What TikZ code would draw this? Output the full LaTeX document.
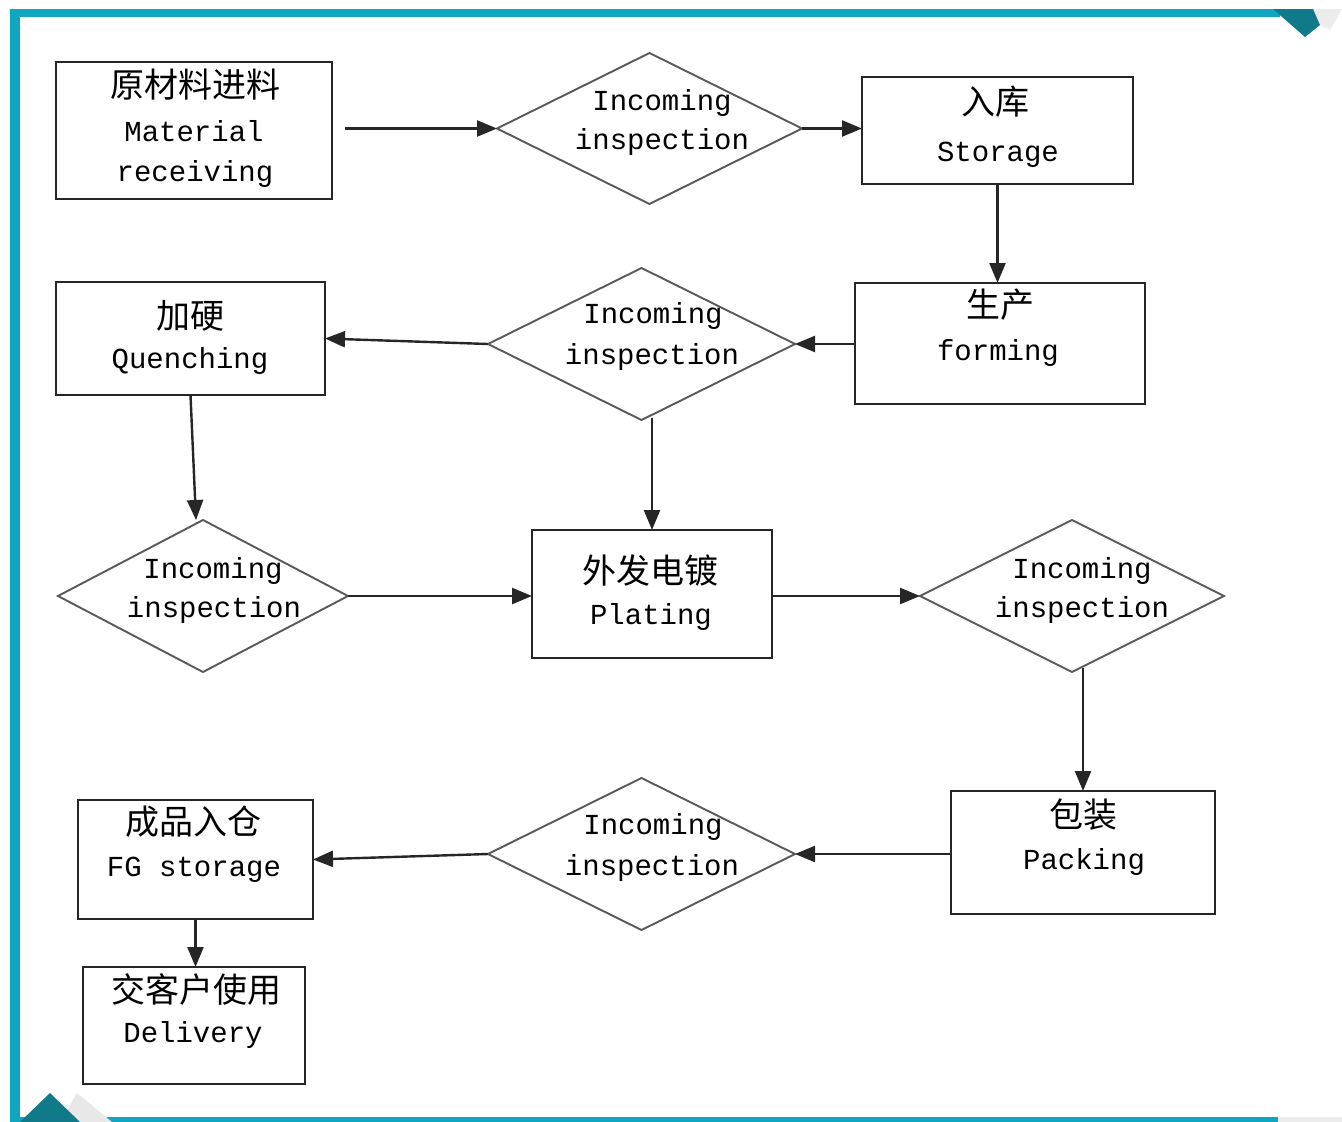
\documentclass[tikz,border=0pt]{standalone}
\usepackage{fontspec}
\setmainfont{Liberation Mono}
\newfontfamily\cjk{Noto Sans CJK SC}
\usetikzlibrary{shapes.geometric,arrows.meta}
\definecolor{tealbar}{RGB}{14,166,192}
\definecolor{tealdark}{RGB}{16,122,138}
\begin{document}
\begin{tikzpicture}[x=1pt,y=-1pt,
  box/.style={draw=black!85,line width=2.2pt,inner sep=0pt,outer sep=0pt},
  dia/.style={diamond,draw=black!65,line width=1.9pt,inner sep=0pt,outer sep=0pt},
  arr/.style={-{Triangle[length=20pt,width=16pt]},line width=2.4pt,draw=black!85,fill=black},
  cn/.style={font=\cjk\fontsize{34}{34}\selectfont,inner sep=0pt},
  en/.style={font=\fontsize{29}{29}\selectfont,anchor=base,inner sep=0pt}]
\useasboundingbox (0,0) rectangle (1342,1122);
\fill[white] (0,0) rectangle (1342,1122);
% frame
\fill[tealbar] (10,9) rectangle (1280,17);
\fill[tealbar] (10,9) rectangle (20,1122);
\fill[tealbar] (10,1117) rectangle (1278,1122);
\fill[gray!15] (1278,1117) rectangle (1342,1122);
\fill[gray!18] (60,1122) -- (77,1093) -- (112,1122) -- cycle;
\fill[tealdark] (20,1122) -- (50,1093) -- (80,1122) -- cycle;
\fill[gray!15] (1313,9) -- (1342,9) -- (1330,30) -- (1320,25) -- cycle;
\fill[tealdark] (1273,9) -- (1313,9) -- (1320,25) -- (1305,37) -- cycle;
% boxes
\node[box,minimum width=276pt,minimum height=137pt] (b1) at (194,130.5) {};
\node[box,minimum width=271pt,minimum height=107pt] (st) at (997.5,130.5) {};
\node[box,minimum width=290pt,minimum height=121pt] (fm) at (1000,343.5) {};
\node[box,minimum width=269pt,minimum height=113pt] (q) at (190.5,338.5) {};
\node[box,minimum width=240pt,minimum height=128pt] (pl) at (652,594) {};
\node[box,minimum width=264pt,minimum height=123pt] (pk) at (1083,852.5) {};
\node[box,minimum width=235pt,minimum height=119pt] (fg) at (195.5,859.5) {};
\node[box,minimum width=222pt,minimum height=117pt] (dl) at (194,1025.5) {};
% diamonds
\node[dia,minimum width=305pt,minimum height=151pt] (d1) at (649.5,128.5) {};
\node[dia,minimum width=307pt,minimum height=152pt] (d2) at (641.5,344) {};
\node[dia,minimum width=290pt,minimum height=152pt] (d3) at (203,596) {};
\node[dia,minimum width=304pt,minimum height=152pt] (d4) at (1072,596) {};
\node[dia,minimum width=307pt,minimum height=152pt] (d5) at (641.5,854) {};
% texts
\node[cn] (b1a) at (195,85) {原材料进料};
\node[en] (b1b) at (194,141) {Material};
\node[en] (b1c) at (195,181) {receiving};
\node[en] (d1a) at (662,110) {Incoming};
\node[en] (d1b) at (662,149) {inspection};
\node[cn] (sta) at (995,102) {入库};
\node[en] (stb) at (998,161) {Storage};
\node[cn] (fma) at (1000,305) {生产};
\node[en] (fmb) at (998,360) {forming};
\node[en] (d2a) at (653,323) {Incoming};
\node[en] (d2b) at (652,364) {inspection};
\node[cn] (qa) at (190,316) {加硬};
\node[en] (qb) at (190,368) {Quenching};
\node[en] (d3a) at (213,578) {Incoming};
\node[en] (d3b) at (214,617) {inspection};
\node[cn] (pla) at (650,571) {外发电镀};
\node[en] (plb) at (651,624) {Plating};
\node[en] (d4a) at (1082,578) {Incoming};
\node[en] (d4b) at (1082,617) {inspection};
\node[cn] (pka) at (1083,815) {包装};
\node[en] (pkb) at (1084,869) {Packing};
\node[en] (d5a) at (653,834) {Incoming};
\node[en] (d5b) at (652,875) {inspection};
\node[cn] (fga) at (193,822) {成品入仓};
\node[en] (fgb) at (194,876) {FG storage};
\node[cn] (dla) at (196,990) {交客户使用};
\node[en] (dlb) at (193,1042) {Delivery};
% connectors
\draw[arr] ([xshift=13pt]d1.west -| b1.east) -- (d1.west);
\draw[arr] (d1.east) -- (d1.east -| st.west);
\draw[arr] (st.south) -- (st.south |- fm.north);
\draw[arr] (fm.west |- d2.east) -- (d2.east);
\draw[arr] (d2.west) -- (q.east);
\draw[arr] (q.south) -- ([xshift=-7pt]d3.north);
\draw[arr] (d3.east) -- (d3.east -| pl.west);
\draw[arr] ([yshift=2pt]d2.south -| pl.north) -- (pl.north);
\draw[arr] (d4.west -| pl.east) -- (d4.west);
\draw[arr] ([yshift=4pt]d4.south -| pk.north) -- (pk.north);
\draw[arr] (d5.east -| pk.west) -- (d5.east);
\draw[arr] (d5.west) -- (fg.east);
\draw[arr] (fg.south) -- (fg.south |- dl.north);
\end{tikzpicture}
\end{document}
